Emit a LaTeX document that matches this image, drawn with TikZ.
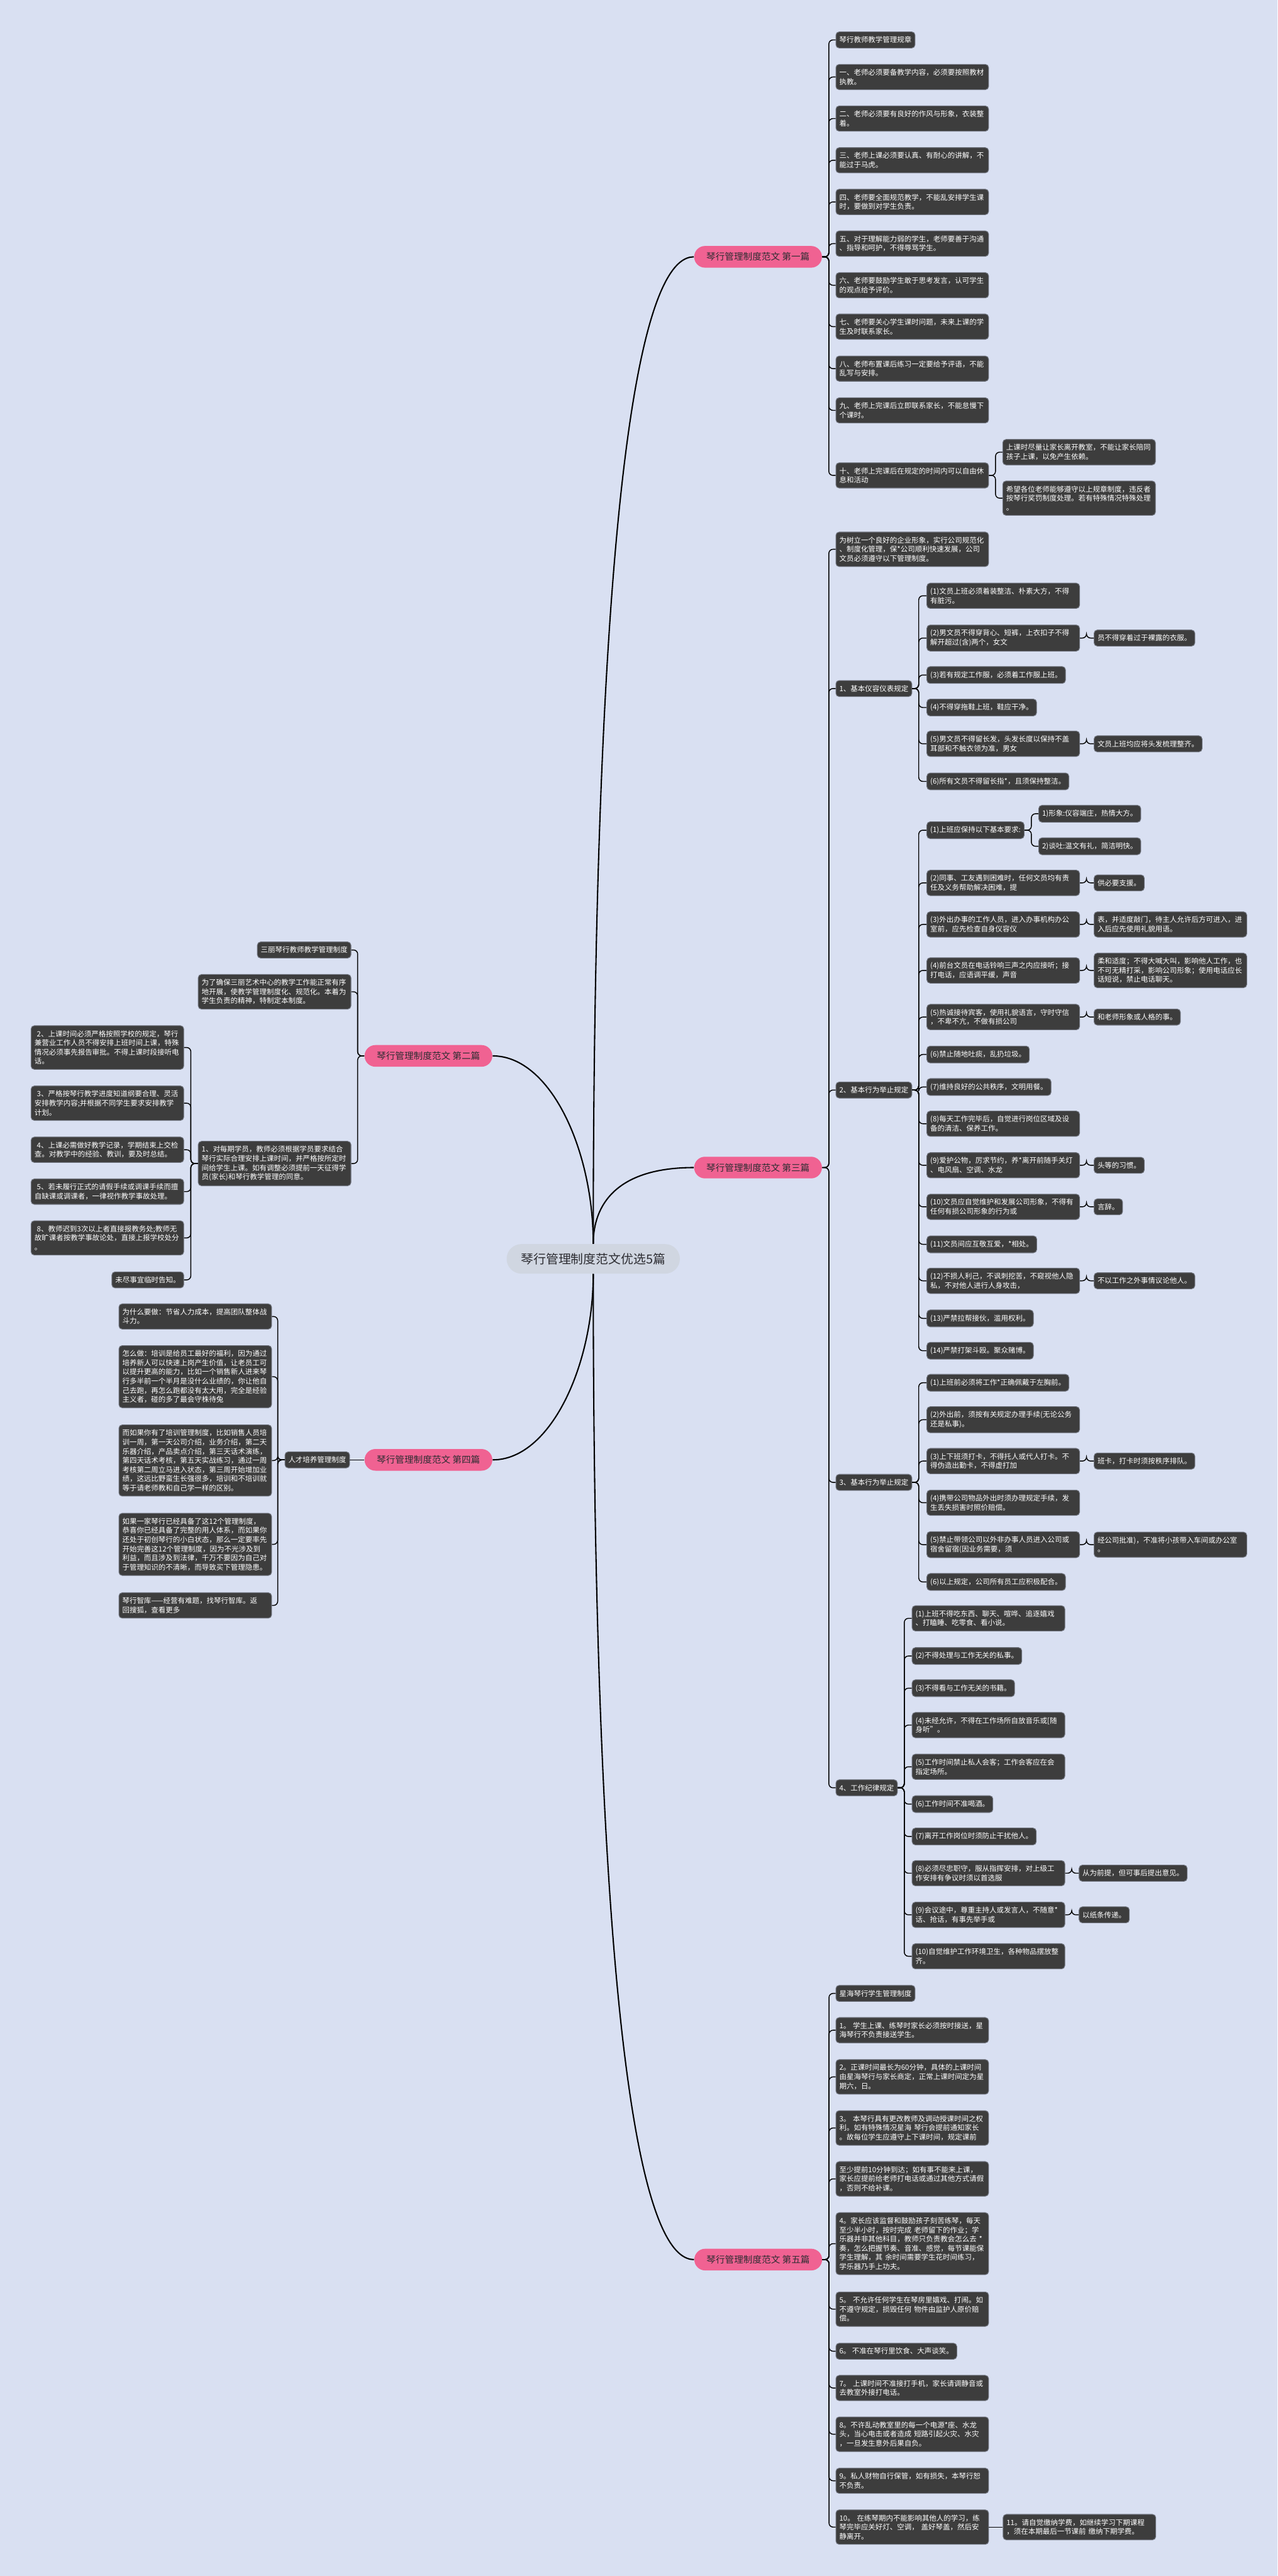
\documentclass[tikz,border=0pt]{standalone}
\usepackage{fontspec}
\setmainfont{Noto Sans CJK SC}
\usetikzlibrary{positioning}

\definecolor{bgblue}{RGB}{217,224,242}
\definecolor{leaffill}{RGB}{61,61,61}
\definecolor{leafedge}{RGB}{112,116,126}
\definecolor{pinkfill}{RGB}{240,98,146}
\definecolor{hubfill}{RGB}{208,214,225}
\definecolor{inkdark}{RGB}{45,45,50}

\begin{document}
\begin{tikzpicture}[x=1pt, y=-1pt,
		leafbox/.style={fill=leaffill, draw=leafedge, line width=0.4pt, rounded corners=2pt, text=white, align=left, anchor=north west, inner xsep=2.1pt, inner ysep=2.85pt, font=\fontsize{4.4}{5.6}\selectfont},
		widebox/.style={leafbox, text width=88.8pt},
		pianbox/.style={fill=pinkfill, text=inkdark, rounded corners=6.6pt, minimum width=77.8pt, minimum height=13.2pt, inner sep=0pt, font=\fontsize{5.6}{6.6}\selectfont},
		hubbox/.style={fill=hubfill, text=inkdark, rounded corners=9pt, minimum width=105.5pt, minimum height=18pt, inner sep=0pt, font=\fontsize{7.6}{8.6}\selectfont},
		conn/.style={draw=black, line width=0.55pt, rounded corners=2.5pt},
		mainconn/.style={draw=black, line width=0.8pt}
	]
	\fill[bgblue] (0,0) rectangle (778,1568.7);
	\useasboundingbox (0,0) rectangle (778,1568.7);

	\node[hubbox] (hub) at (361.25,766.6) {琴行管理制度范文优选5篇};
	\node[pianbox, anchor=west] (pian1) at (422.5,156.4) {琴行管理制度范文 第一篇};
	\node[pianbox, anchor=east] (pian2) at (300,643) {琴行管理制度范文 第二篇};
	\node[pianbox, anchor=west] (pian3) at (422.5,711) {琴行管理制度范文 第三篇};
	\node[pianbox, anchor=east] (pian4) at (300,889) {琴行管理制度范文 第四篇};
	\node[pianbox, anchor=west] (pian5) at (422.6,1376) {琴行管理制度范文 第五篇};

	\draw[mainconn] (hub.north) .. controls (361.25,457) and (374.7,156.4) .. (pian1.west);
	\draw[mainconn] (hub.north) .. controls (361.25,700) and (335,643) .. (pian2.east);
	\draw[mainconn] (hub.north) .. controls (361.25,734.3) and (374.7,711) .. (pian3.west);
	\draw[mainconn] (hub.south) .. controls (361.25,832) and (335,889) .. (pian4.east);
	\draw[mainconn] (hub.south) .. controls (361.25,1075.6) and (374.7,1376) .. (pian5.west);

	% first
	\node[leafbox] (s1t0) at (508.8,19.2) {琴行教师教学管理规章};
	\node[widebox] (s1t1) at (508.8,39) {一、老师必须要备教学内容，必须要按照教材\\执教。};
	\node[widebox] (s1t2) at (508.8,64.3) {二、老师必须要有良好的作风与形象，衣装整\\着。};
	\node[widebox] (s1t3) at (508.8,89.7) {三、老师上课必须要认真、有耐心的讲解，不\\能过于马虎。};
	\node[widebox] (s1t4) at (508.8,115) {四、老师要全面规范教学，不能乱安排学生课\\时，要做到对学生负责。};
	\node[widebox] (s1t5) at (508.8,140.4) {五、对于理解能力弱的学生，老师要善于沟通\\、指导和呵护，不得辱骂学生。};
	\node[widebox] (s1t6) at (508.8,165.8) {六、老师要鼓励学生敢于思考发言，认可学生\\的观点给予评价。};
	\node[widebox] (s1t7) at (508.8,191) {七、老师要关心学生课时问题，未来上课的学\\生及时联系家长。};
	\node[widebox] (s1t8) at (508.8,216.6) {八、老师布置课后练习一定要给予评语，不能\\乱写与安排。};
	\node[widebox] (s1t9) at (508.8,242) {九、老师上完课后立即联系家长，不能怠慢下\\个课时。};
	\node[widebox] (s1t10) at (508.8,281.6) {十、老师上完课后在规定的时间内可以自由休\\息和活动};
	\node[widebox] (s1s1) at (610.4,267.4) {上课时尽量让家长离开教室，不能让家长陪同\\孩子上课，以免产生依赖。};
	\node[widebox] (s1s2) at (610.4,292.7) {希望各位老师能够遵守以上规章制度，违反者\\按琴行奖罚制度处理。若有特殊情况特殊处理\\。};
	\foreach \n in {0,...,10}
		\draw[conn] (pian1.east) -- ++(4,0) |- (s1t\n.west);
	\foreach \n in {1,2}
		\draw[conn] (s1t10.east) -- ++(4,0) |- (s1s\n.west);

	% second
	\node[leafbox, anchor=north east] (s2t0) at (213.9,573.4) {三丽琴行教师教学管理制度};
	\node[widebox, anchor=north east] (s2t1) at (213.9,593.2) {为了确保三丽艺术中心的教学工作能正常有序\\地开展，使教学管理制度化、规范化。本着为\\学生负责的精神，特制定本制度。};
	\node[widebox, anchor=north east] (s2t2) at (213.9,694.8) {1、对每期学员，教师必须根据学员要求结合\\琴行实际合理安排上课时间，并严格按所定时\\间给学生上课。如有调整必须提前一天征得学\\员(家长)和琴行教学管理的同意。};
	\node[widebox, anchor=north east] (s2s1) at (112.1,624.4) {\ 2、上课时间必须严格按照学校的规定，琴行\\兼营业工作人员不得安排上班时间上课，特殊\\情况必须事先报告审批。不得上课时段接听电\\话。};
	\node[widebox, anchor=north east] (s2s2) at (112.1,661.1) {\ 3、严格按琴行教学进度知道纲要合理、灵活\\安排教学内容;并根据不同学生要求安排教学\\计划。};
	\node[widebox, anchor=north east] (s2s3) at (112.1,692.2) {\ 4、上课必需做好教学记录，学期结束上交检\\查。对教学中的经验、教训，要及时总结。};
	\node[widebox, anchor=north east] (s2s4) at (112.1,717.7) {\ 5、若未履行正式的请假手续或调课手续而擅\\自缺课或调课者，一律视作教学事故处理。};
	\node[widebox, anchor=north east] (s2s5) at (112.1,743.2) {\ 8、教师迟到3次以上者直接报教务处;教师无\\故旷课者按教学事故论处，直接上报学校处分\\。};
	\node[leafbox, anchor=north east] (s2s6) at (112.1,774.3) {未尽事宜临时告知。};
	\foreach \n in {0,1,2}
		\draw[conn] (pian2.west) -- ++(-4,0) |- (s2t\n.east);
	\foreach \n in {1,...,6}
		\draw[conn] (s2t2.west) -- ++(-4.3,0) |- (s2s\n.east);

	% third
	\node[widebox] (s3t0) at (508.8,323.8) {为树立一个良好的企业形象，实行公司规范化\\、制度化管理，保*公司顺利快速发展，公司\\文员必须遵守以下管理制度。};
	\node[leafbox] (s3t1) at (508.8,414.2) {1、基本仪容仪表规定};
	\node[leafbox] (s3t2) at (508.8,658.7) {2、基本行为举止规定};
	\node[leafbox] (s3t3) at (508.8,897.6) {3、基本行为举止规定};
	\node[leafbox] (s3t4) at (508.8,1083.6) {4、工作纪律规定};
	\foreach \n in {0,...,4}
		\draw[conn] (pian3.east) -- ++(4,0) |- (s3t\n.west);

	\node[widebox] (s3a1) at (564.2,354.9) {(1)文员上班必须着装整洁、朴素大方，不得\\有脏污。};
	\node[widebox] (s3a2) at (564.2,380.4) {(2)男文员不得穿背心、短裤，上衣扣子不得\\解开超过(含)两个，女文};
	\node[leafbox] (s3a3) at (564.2,405.7) {(3)若有规定工作服，必须着工作服上班。};
	\node[leafbox] (s3a4) at (564.2,425.5) {(4)不得穿拖鞋上班，鞋应干净。};
	\node[widebox] (s3a5) at (564.2,445) {(5)男文员不得留长发，头发长度以保持不盖\\耳部和不触衣领为准，男女};
	\node[leafbox] (s3a6) at (564.2,470.5) {(6)所有文员不得留长指*，且须保持整洁。};
	\node[leafbox, right=8.4pt of s3a2] (s3a2x) {员不得穿着过于裸露的衣服。};
	\node[leafbox, right=8.4pt of s3a5] (s3a5x) {文员上班均应将头发梳理整齐。};
	\foreach \n in {1,...,6}
		\draw[conn] (s3t1.east) -- ++(4,0) |- (s3a\n.west);

	\node[leafbox] (s3b1) at (564.2,500.2) {(1)上班应保持以下基本要求:};
	\node[widebox] (s3b2) at (564.2,529.7) {(2)同事、工友遇到困难时，任何文员均有责\\任及义务帮助解决困难，提};
	\node[widebox] (s3b3) at (564.2,555) {(3)外出办事的工作人员，进入办事机构办公\\室前，应先检查自身仪容仪};
	\node[widebox] (s3b4) at (564.2,583) {(4)前台文员在电话铃响三声之内应接听；接\\打电话，应语调平缓，声音};
	\node[widebox] (s3b5) at (564.2,611.4) {(5)热诚接待宾客，使用礼貌语言，守时守信\\，不卑不亢，不做有损公司};
	\node[leafbox] (s3b6) at (564.2,636.8) {(6)禁止随地吐痰，乱扔垃圾。};
	\node[leafbox] (s3b7) at (564.2,656.6) {(7)维持良好的公共秩序，文明用餐。};
	\node[widebox] (s3b8) at (564.2,676.4) {(8)每天工作完毕后，自觉进行岗位区域及设\\备的清洁、保养工作。};
	\node[widebox] (s3b9) at (564.2,701.7) {(9)爱护公物，厉求节约，养*离开前随手关灯\\、电风扇、空调、水龙};
	\node[widebox] (s3b10) at (564.2,727) {(10)文员应自觉维护和发展公司形象，不得有\\任何有损公司形象的行为或};
	\node[leafbox] (s3b11) at (564.2,752.4) {(11)文员间应互敬互爱，*相处。};
	\node[widebox] (s3b12) at (564.2,772) {(12)不损人利己，不讽刺挖苦，不窥视他人隐\\私，不对他人进行人身攻击，};
	\node[leafbox] (s3b13) at (564.2,797.5) {(13)严禁拉帮接伙，滥用权利。};
	\node[leafbox] (s3b14) at (564.2,817.2) {(14)严禁打架斗殴。聚众赌博。};
	\node[leafbox] (s3b1x) at (632.3,490.2) {1)形象:仪容端庄，热情大方。};
	\node[leafbox] (s3b1y) at (632.3,510) {2)谈吐:温文有礼，简洁明快。};
	\node[leafbox, right=8.4pt of s3b2] (s3b2x) {供必要支援。};
	\node[widebox, right=8.4pt of s3b3] (s3b3x) {表，并适度敲门，待主人允许后方可进入，进\\入后应先使用礼貌用语。};
	\node[widebox, right=8.4pt of s3b4] (s3b4x) {柔和适度；不得大喊大叫，影响他人工作，也\\不可无精打采，影响公司形象；使用电话应长\\话短说，禁止电话聊天。};
	\node[leafbox, right=8.4pt of s3b5] (s3b5x) {和老师形象或人格的事。};
	\node[leafbox, right=8.4pt of s3b9] (s3b9x) {头等的习惯。};
	\node[leafbox, right=8.4pt of s3b10] (s3b10x) {言辞。};
	\node[leafbox, right=8.4pt of s3b12] (s3b12x) {不以工作之外事情议论他人。};
	\foreach \n in {1,...,14}
		\draw[conn] (s3t2.east) -- ++(4,0) |- (s3b\n.west);
	\foreach \n in {x,y}
		\draw[conn] (s3b1.east) -- ++(4.2,0) |- (s3b1\n.west);

	\node[leafbox] (s3c1) at (564.2,836.7) {(1)上班前必须将工作*正确佩戴于左胸前。};
	\node[widebox] (s3c2) at (564.2,856.4) {(2)外出前，须按有关规定办理手续(无论公务\\还是私事)。};
	\node[widebox] (s3c3) at (564.2,881.8) {(3)上下班须打卡，不得托人或代人打卡。不\\得伪造出勤卡，不得虚打加};
	\node[widebox] (s3c4) at (564.2,907.2) {(4)携带公司物品外出时须办理规定手续，发\\生丢失损害时照价赔偿。};
	\node[widebox] (s3c5) at (564.2,932.5) {(5)禁止带领公司以外非办事人员进入公司或\\宿舍留宿(因业务需要，须};
	\node[leafbox] (s3c6) at (564.2,958) {(6)以上规定，公司所有员工应积极配合。};
	\node[leafbox, right=8.4pt of s3c3] (s3c3x) {班卡，打卡时须按秩序排队。};
	\node[widebox, right=8.4pt of s3c5] (s3c5x) {经公司批准)，不准将小孩带入车间或办公室\\。};
	\foreach \n in {1,...,6}
		\draw[conn] (s3t3.east) -- ++(4,0) |- (s3c\n.west);

	\node[widebox] (s3d1) at (555.2,977.6) {(1)上班不得吃东西、聊天、喧哗、追逐嬉戏\\、打瞌睡、吃零食、看小说。};
	\node[leafbox] (s3d2) at (555.2,1003.1) {(2)不得处理与工作无关的私事。};
	\node[leafbox] (s3d3) at (555.2,1022.7) {(3)不得看与工作无关的书籍。};
	\node[widebox] (s3d4) at (555.2,1042.6) {(4)未经允许，不得在工作场所自放音乐或[随\\身听"。};
	\node[widebox] (s3d5) at (555.2,1068) {(5)工作时间禁止私人会客；工作会客应在会\\指定场所。};
	\node[leafbox] (s3d6) at (555.2,1093.3) {(6)工作时间不准喝酒。};
	\node[leafbox] (s3d7) at (555.2,1113) {(7)离开工作岗位时须防止干扰他人。};
	\node[widebox] (s3d8) at (555.2,1132.8) {(8)必须尽忠职守，服从指挥安排，对上级工\\作安排有争议时须以首选服};
	\node[widebox] (s3d9) at (555.2,1158.1) {(9)会议途中，尊重主持人或发言人，不随意*\\话、抢话，有事先举手或};
	\node[widebox] (s3d10) at (555.2,1183.4) {(10)自觉维护工作环境卫生，各种物品摆放整\\齐。};
	\node[leafbox, right=8.3pt of s3d8] (s3d8x) {从为前提，但可事后提出意见。};
	\node[leafbox, right=8.3pt of s3d9] (s3d9x) {以纸条传递。};
	\foreach \n in {1,...,10}
		\draw[conn] (s3t4.east) -- ++(4,0) |- (s3d\n.west);

	\foreach \a in {s3a2,s3a5,s3b2,s3b3,s3b4,s3b5,s3b9,s3b10,s3b12,s3c3,s3c5,s3d8,s3d9}
		\draw[conn] (\a.east) -- ++(4,0) |- (\a x.west);

	% fourth
	\node[leafbox, anchor=east, left=8.7pt of pian4] (s4t0) {人才培养管理制度};
	\node[widebox, anchor=north east] (s4s1) at (165.6,793.8) {为什么要做：节省人力成本，提高团队整体战\\斗力。};
	\node[widebox, anchor=north east] (s4s2) at (165.6,819.2) {怎么做：培训是给员工最好的福利，因为通过\\培养新人可以快速上岗产生价值，让老员工可\\以提升更高的能力，比如一个销售新人进来琴\\行多半前一个半月是没什么业绩的，你让他自\\己去跑，再怎么跑都没有太大用，完全是经验\\主义者，碰的多了最会守株待兔};
	\node[widebox, anchor=north east] (s4s3) at (165.6,867.5) {而如果你有了培训管理制度，比如销售人员培\\训一周，第一天公司介绍，业务介绍，第二天\\乐器介绍，产品卖点介绍，第三天话术演练，\\第四天话术考核，第五天实战练习，通过一周\\考核第二周立马进入状态，第三周开始增加业\\绩，这远比野蛮生长强很多，培训和不培训就\\等于请老师教和自己学一样的区别。};
	\node[widebox, anchor=north east] (s4s4) at (165.6,921.3) {如果一家琴行已经具备了这12个管理制度，\\恭喜你已经具备了完整的用人体系，而如果你\\还处于初创琴行的小白状态，那么一定要率先\\开始完善这12个管理制度，因为不光涉及到\\利益，而且涉及到法律，千万不要因为自己对\\于管理知识的不清晰，而导致买下管理隐患。};
	\node[widebox, anchor=north east] (s4s5) at (165.6,969.7) {琴行智库——经营有难题，找琴行智库。返\\回搜狐，查看更多};
	\draw[conn] (pian4.west) -- (s4t0.east);
	\foreach \n in {1,...,5}
		\draw[conn] (s4t0.west) -- ++(-4.2,0) |- (s4s\n.east);

	% fifth
	\node[leafbox] (s5t0) at (508.8,1208.8) {星海琴行学生管理制度};
	\node[widebox] (s5t1) at (508.8,1228.4) {1。 学生上课、练琴时家长必须按时接送，星\\海琴行不负责接送学生。};
	\node[widebox] (s5t2) at (508.8,1254) {2。正课时间最长为60分钟，具体的上课时间\\由星海琴行与家长商定，正常上课时间定为星\\期六，日。};
	\node[widebox] (s5t3) at (508.8,1285.1) {3。 本琴行具有更改教师及调动授课时间之权\\利。如有特殊情况星海 琴行会提前通知家长\\。故每位学生应遵守上下课时间，规定课前};
	\node[widebox] (s5t4) at (508.8,1316.1) {至少提前10分钟到达；如有事不能来上课，\\家长应提前给老师打电话或通过其他方式请假\\，否则不给补课。};
	\node[widebox] (s5t5) at (508.8,1347.2) {4。家长应该监督和鼓励孩子刻苦练琴，每天\\至少半小时，按时完成 老师留下的作业；学\\乐器并非其他科目，教师只负责教会怎么去 *\\奏，怎么把握节奏、音准、感觉，每节课能保\\*学生理解，其 余时间需要学生花时间练习，\\学乐器乃手上功夫。};
	\node[widebox] (s5t6) at (508.8,1395.5) {5。 不允许任何学生在琴房里嬉戏、打闹。如\\不遵守规定，损毁任何 物件由监护人原价赔\\偿。};
	\node[leafbox] (s5t7) at (508.8,1426.7) {6。 不准在琴行里饮食、大声谈笑。};
	\node[widebox] (s5t8) at (508.8,1446.3) {7。 上课时间不准接打手机，家长请调静音或\\去教室外接打电话。};
	\node[widebox] (s5t9) at (508.8,1471.6) {8。不许乱动教室里的每一个电源*座、水龙\\头，当心电击或者造成 短路引起火灾、水灾\\，一旦发生意外后果自负。};
	\node[widebox] (s5t10) at (508.8,1502.8) {9。私人财物自行保管，如有损失，本琴行恕\\不负责。};
	\node[widebox] (s5t11) at (508.8,1528.2) {10。 在练琴期内不能影响其他人的学习，练\\琴完毕应关好灯、空调， 盖好琴盖，然后安\\静离开。};
	\node[widebox, right=8.4pt of s5t11] (s5x) {11。请自觉缴纳学费，如继续学习下期课程\\，须在本期最后一节课前 缴纳下期学费。};
	\foreach \n in {0,...,11}
		\draw[conn] (pian5.east) -- ++(4,0) |- (s5t\n.west);
	\draw[conn] (s5t11.east) -- (s5x.west);
\end{tikzpicture}
\end{document}
